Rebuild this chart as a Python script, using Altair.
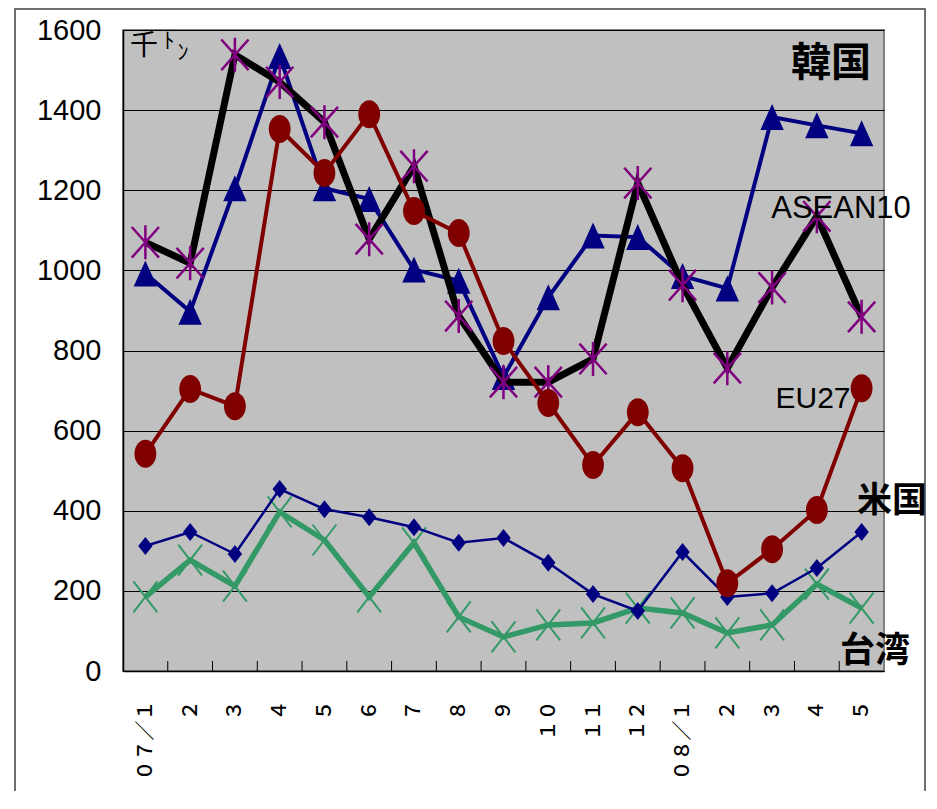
import json
import altair as alt
import pandas as pd

# ---- data ----
months = ["０７／１", "２", "３", "４", "５", "６", "７", "８", "９", "１０", "１１", "１２",
          "０８／１", "２", "３", "４", "５"]
korea = [1070, 1018, 1538, 1470, 1370, 1078, 1260, 886, 721, 721, 779, 1218, 963, 756, 957, 1135, 884]
asean = [992, 897, 1205, 1535, 1205, 1178, 1002, 974, 734, 933, 1087, 1083, 986, 955, 1383, 1362, 1342]
eu27 = [542, 704, 661, 1353, 1243, 1390, 1148, 1093, 824, 669, 514, 646, 506, 219, 304, 402, 706]
usa = [312, 347, 292, 454, 404, 384, 359, 320, 332, 270, 192, 150, 297, 185, 194, 257, 347]
taiwan = [185, 277, 212, 397, 327, 185, 320, 135, 85, 115, 120, 157, 145, 95, 115, 217, 157]
series_names = ["韓国", "ASEAN10", "EU27", "米国", "台湾"]
unit_main = "千"
unit_sub = ["ﾄ", "ﾝ"]

rows = []
for name, vals in zip(series_names, [korea, asean, eu27, usa, taiwan]):
    for i, v in enumerate(vals):
        rows.append({"idx": i, "series": name, "value": v})
df = pd.DataFrame(rows)

W, H = 761, 641
STEP = W / len(months)
label_expr = json.dumps(months, ensure_ascii=False) + "[datum.value]"

LATIN = "Liberation Sans Narrow, Liberation Sans, Arial, sans-serif"
CJK = "Noto Sans CJK JP"

X = alt.X("idx:O", title=None,
          scale=alt.Scale(type="point", padding=0.5),
          axis=alt.Axis(labelExpr=label_expr, labelAngle=270, labelAlign="right",
                        labelBaseline="middle", labelFont=CJK,
                        labelFontSize=20, labelFontWeight=500, labelColor="black",
                        labelPadding=29,
                        ticks=False, domainColor="black", domainWidth=1.5, grid=False))
Y = alt.Y("value:Q", title=None,
          scale=alt.Scale(domain=[0, 1600], nice=False),
          axis=alt.Axis(values=list(range(0, 1601, 200)), format="d", labelFontSize=29,
                        labelFont=LATIN,
                        labelColor="black", labelPadding=22, ticks=False,
                        domainColor="black", domainWidth=1.5,
                        grid=True, gridColor="black", gridWidth=1))

base = alt.Chart(df)

STAR = "M0,-1L0,1M-0.8,-0.9L0.8,0.9M-0.8,0.9L0.8,-0.9"
TRI = "M0,-1L0.9,1L-0.9,1Z"
ELL = "M0,-1A0.78,1,0,1,1,0,1A0.78,1,0,1,1,0,-1Z"
DIA = "M0,-1L0.8,0L0,1L-0.8,0Z"
XS = "M-0.77,-1L0.77,1M-0.77,1L0.77,-1"

styles = {
    "台湾": dict(line="#339966", lw=5.5, shape=XS, size=961, filled=False, mc="#339966", sw=2),
    "米国": dict(line="#000080", lw=2.5, shape=DIA, size=324, filled=True, mc="#000080", sw=0),
    "ASEAN10": dict(line="#000080", lw=4, shape=TRI, size=676, filled=True, mc="#000080", sw=0),
    "韓国": dict(line="#000000", lw=7, shape=STAR, size=1156, filled=False, mc="#800080", sw=2.5),
    "EU27": dict(line="#800000", lw=4, shape=ELL, size=784, filled=True, mc="#800000", sw=0),
}

layers = []
frame = alt.Chart(pd.DataFrame({"a": [0]})).mark_rect(
    fillOpacity=0, stroke="#404040", strokeWidth=1.5
).encode(x=alt.value(-108), x2=alt.value(802), y=alt.value(-21), y2=alt.value(800))
layers.append(frame)

ticks = base.transform_filter(
    (alt.datum.series == "韓国") & (alt.datum.idx < len(months) - 1)
).mark_rule(color="black", strokeWidth=1, xOffset=STEP / 2).encode(
    x=X, y=alt.value(H), y2=alt.value(H - 10))
layers.append(ticks)

for name in ["台湾", "米国", "ASEAN10", "韓国", "EU27"]:
    s = styles[name]
    sub = base.transform_filter(alt.datum.series == name)
    layers.append(sub.mark_line(color=s["line"], strokeWidth=s["lw"]).encode(x=X, y=Y))
    if s["filled"]:
        pm = sub.mark_point(shape=s["shape"], size=s["size"], filled=True,
                            color=s["mc"], opacity=1, strokeWidth=0)
    else:
        pm = sub.mark_point(shape=s["shape"], size=s["size"], filled=False,
                            color=s["mc"], opacity=1, strokeWidth=s["sw"])
    layers.append(pm.encode(x=X, y=Y))

one = pd.DataFrame({"a": [0]})
ann = [
    (series_names[0], 708, 34, CJK, 40, "bold"),
    (series_names[1], 718, 179, LATIN, 31, "normal"),
    (series_names[2], 690, 369, LATIN, 30, "normal"),
    (series_names[3], 769, 471, CJK, 35, "bold"),
    (series_names[4], 752, 621, CJK, 35, "bold"),
    (unit_main, 21, 17, CJK, 28, "normal"),
    (unit_sub[0], 46, 11, CJK, 22, "normal"),
    (unit_sub[1], 60, 22, CJK, 22, "normal"),
]
for t, px, py, f, fs, fw in ann:
    layers.append(alt.Chart(one).mark_text(
        text=t, font=f, fontSize=fs, fontWeight=fw, color="black",
        align="center", baseline="middle"
    ).encode(x=alt.value(px), y=alt.value(py)))

chart = alt.layer(*layers).properties(
    width=W, height=H,
    autosize=alt.AutoSizeParams(type="none"),
    padding={"left": 115, "top": 22, "right": 45, "bottom": 120},
    background="white",
).configure_view(fill="#c0c0c0", stroke="#808080", strokeWidth=2)

chart.save("out.html", embed_options={"renderer": "svg", "actions": False})
